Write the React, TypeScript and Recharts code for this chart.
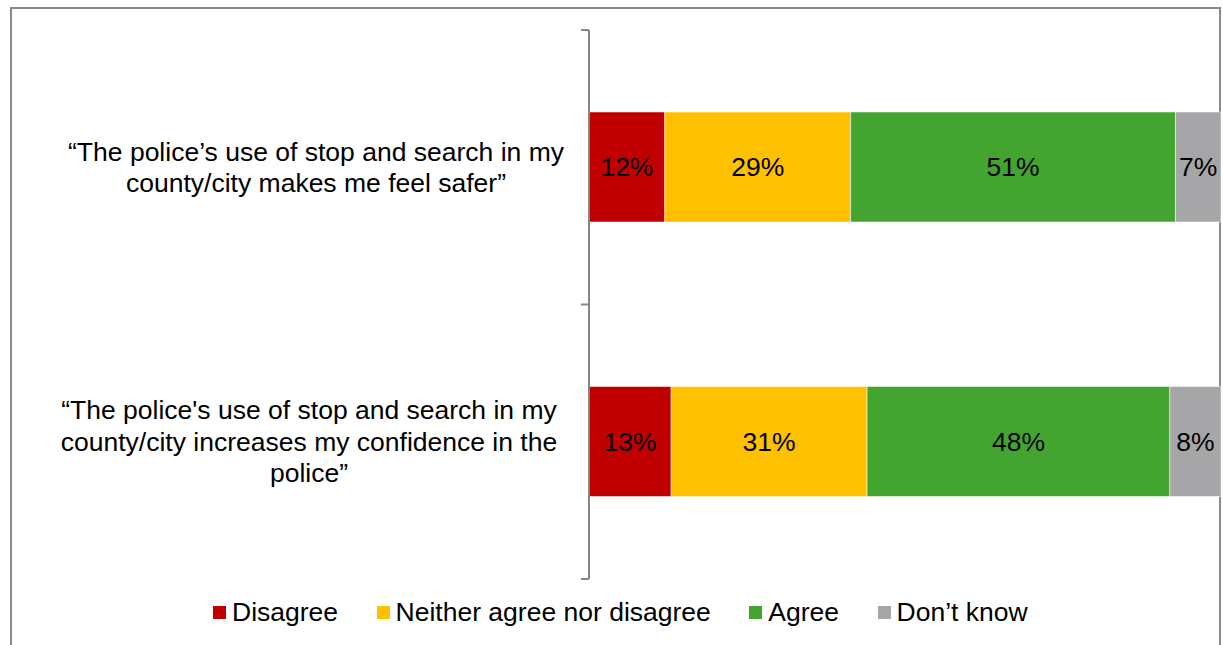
import React from 'react';
import { BarChart, Bar, XAxis, YAxis, LabelList } from 'recharts';

const categoryLines: string[][] = [
  ['\u201CThe police\u2019s use of stop and search in my', 'county/city makes me feel safer\u201D'],
  ['\u201CThe police\'s use of stop and search in my', 'county/city increases my confidence in the', 'police\u201D'],
];
const categories = categoryLines.map((l) => l.join(' '));
const disagree = [12.0, 13.0];
const neither = [29.4, 31.0];
const agree = [51.4, 47.9];
const dontKnow = [7.2, 8.1];

const seriesNames = ['Disagree', 'Neither agree nor disagree', 'Agree', 'Don\u2019t know'];
const seriesKeys = ['disagree', 'neither', 'agree', 'dontKnow'];
const seriesColors = ['#C00000', '#FFC000', '#43A52F', '#A6A6A8'];

const data = categories.map((c, i) => ({
  category: c,
  disagree: disagree[i],
  neither: neither[i],
  agree: agree[i],
  dontKnow: dontKnow[i],
}));

const FONT = '"Liberation Sans", Arial, sans-serif';
const FS = 26.5;
const labelCenters = [316, 309];

const CategoryTick = (props: any) => {
  const { x, y, payload, index } = props;
  const lines = categoryLines[index] || [String(payload.value)];
  const lh = 31.5;
  const startY = y - ((lines.length - 1) * lh) / 2;
  const half = payload && typeof payload.offset === 'number' ? payload.offset : 137.25;
  const ax = x + 8;
  return (
    <g>
      {lines.map((ln: string, i: number) => (
        <text
          key={i}
          x={labelCenters[index] ?? 312}
          y={startY + i * lh}
          textAnchor="middle"
          dominantBaseline="central"
          fontFamily={FONT}
          fontSize={FS}
          fill="#000"
        >
          {ln}
        </text>
      ))}
      <line x1={ax - 8} x2={ax} y1={y - half} y2={y - half} stroke="#868686" strokeWidth={2} />
      {index === categories.length - 1 && (
        <line x1={ax - 8} x2={ax} y1={y + half} y2={y + half} stroke="#868686" strokeWidth={2} />
      )}
    </g>
  );
};

const LegendBlock = () => (
  <div
    style={{
      position: 'absolute',
      left: 213,
      top: 597,
      display: 'flex',
      alignItems: 'center',
      fontFamily: FONT,
      fontSize: FS,
      color: '#000',
      whiteSpace: 'nowrap',
    }}
  >
    {seriesNames.map((n, i) => (
      <div key={n} style={{ display: 'flex', alignItems: 'center', marginRight: 38.5 }}>
        <span style={{ display: 'inline-block', width: 13, height: 13, background: seriesColors[i], marginRight: 6 }} />
        <span>{n}</span>
      </div>
    ))}
  </div>
);

export default function App() {
  return (
    <div style={{ position: 'absolute', left: 0, top: 0, width: 1223, height: 645, overflow: 'hidden', background: '#fff' }}>
      <div
        style={{
          position: 'absolute',
          left: 10,
          top: 7,
          width: 1211,
          height: 700,
          boxSizing: 'border-box',
          border: '2px solid #8a8a8a',
          borderBottom: 'none',
        }}
      />
      <div style={{ position: 'absolute', left: 0, top: 0 }}>
        <BarChart
          width={1223}
          height={645}
          data={data}
          layout="vertical"
          margin={{ top: 30, right: 2, bottom: 66, left: 0 }}
        >
          <XAxis type="number" domain={[0, 100]} hide />
          <YAxis
            type="category"
            dataKey="category"
            width={589}
            tickLine={false}
            axisLine={{ stroke: '#868686', strokeWidth: 2 }}
            tick={<CategoryTick />}
            interval={0}
          />
          {seriesKeys.map((k, i) => (
            <Bar
              key={k}
              dataKey={k}
              name={seriesNames[i]}
              stackId="a"
              fill={seriesColors[i]}
              stroke="#ffffff"
              strokeOpacity={0.5}
              strokeWidth={1}
              barSize={110}
              isAnimationActive={false}
            >
              <LabelList
                dataKey={k}
                position="center"
                formatter={(v: any) => `${Math.round(Number(v))}%`}
                fill="#000"
                fontFamily={FONT}
                fontSize={FS}
              />
            </Bar>
          ))}
        </BarChart>
      </div>
      <LegendBlock />
    </div>
  );
}
